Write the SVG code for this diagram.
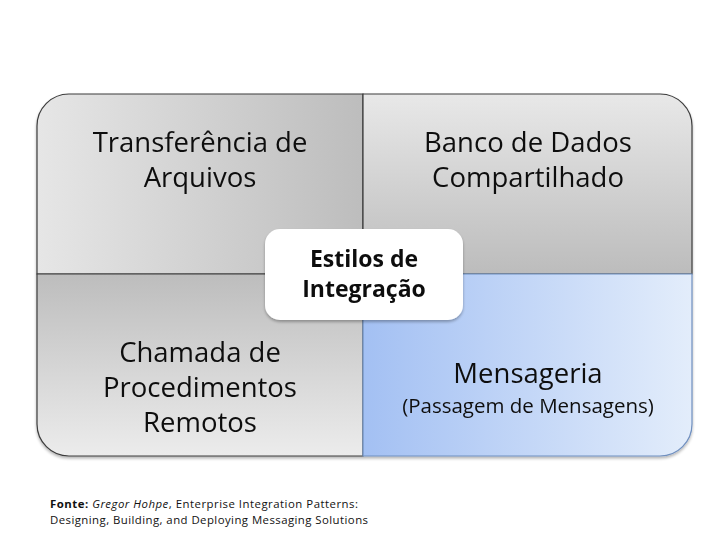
<svg xmlns="http://www.w3.org/2000/svg" width="728" height="546" viewBox="0 0 728 546">
<defs>
<linearGradient id="gTL" x1="0" y1="0" x2="1" y2="0"><stop offset="0" stop-color="#e6e6e6"/><stop offset="1" stop-color="#bdbdbd"/></linearGradient>
<linearGradient id="gTR" x1="0" y1="0" x2="0" y2="1"><stop offset="0" stop-color="#e8e8e8"/><stop offset="1" stop-color="#bcbcbc"/></linearGradient>
<linearGradient id="gBL" x1="0" y1="0" x2="0" y2="1"><stop offset="0" stop-color="#bdbdbd"/><stop offset="1" stop-color="#ececec"/></linearGradient>
<linearGradient id="gBR" x1="0" y1="0" x2="1" y2="0"><stop offset="0" stop-color="#a3c0f3"/><stop offset="1" stop-color="#e3edfb"/></linearGradient>
<filter id="sh" x="-10%" y="-10%" width="120%" height="125%"><feGaussianBlur in="SourceAlpha" stdDeviation="1.5"/><feOffset dx="0" dy="2" result="b"/><feComponentTransfer><feFuncA type="linear" slope="0.3"/></feComponentTransfer><feMerge><feMergeNode/><feMergeNode in="SourceGraphic"/></feMerge></filter>
</defs>
<style>
.q{stroke:#3c3c3c;stroke-width:1.2}
.t{font-family:"Open Sans","Liberation Sans",sans-serif;font-size:27.5px;fill:#111;text-anchor:middle}
.s{font-size:20.5px}
.c{font-family:"Open Sans","Liberation Sans",sans-serif;font-size:23px;font-weight:bold;fill:#111;text-anchor:middle}
.f{font-family:"Open Sans","Liberation Sans",sans-serif;font-size:11.4px;fill:#111}
</style>
<rect width="728" height="546" fill="#fff"/>
<g filter="url(#sh)">
<g id="tl">
<path class="q" d="M37,274 V126 A32,32 0 0 1 69,94 H363 V274 Z" fill="url(#gTL)"/>
<text class="t" x="200" y="152">Transferência de</text>
<text class="t" x="200" y="187">Arquivos</text>
</g>
<g id="tr">
<path class="q" d="M363,94 H660 A32,32 0 0 1 692,126 V274 H363 Z" fill="url(#gTR)"/>
<text class="t" x="528" y="152">Banco de Dados</text>
<text class="t" x="528" y="187">Compartilhado</text>
</g>
<g id="bl">
<path class="q" d="M37,274 H363 V456 H69 A32,32 0 0 1 37,424 Z" fill="url(#gBL)"/>
<text class="t" x="200" y="362">Chamada de</text>
<text class="t" x="200" y="397">Procedimentos</text>
<text class="t" x="200" y="432">Remotos</text>
</g>
<g id="br">
<path d="M363,274 H692 V424 A32,32 0 0 1 660,456 H363 Z" fill="url(#gBR)" stroke="#6f8fbf" stroke-width="1.2"/>
<text class="t" x="528" y="383">Mensageria</text>
<text class="t s" x="528" y="413">(Passagem de Mensagens)</text>
</g>
</g>
<g id="center" filter="url(#sh)">
<rect x="265" y="229" width="198" height="91" rx="15" fill="#fff"/>
<text class="c" x="364" y="267">Estilos de</text>
<text class="c" x="364" y="297">Integração</text>
</g>
<g id="connectors"/>
<g id="footer">
<text class="f" x="50" y="508" textLength="308" lengthAdjust="spacing"><tspan font-weight="bold">Fonte:</tspan> <tspan font-style="italic">Gregor Hohpe</tspan>, Enterprise Integration Patterns:</text>
<text class="f" x="50" y="524" textLength="318" lengthAdjust="spacing">Designing, Building, and Deploying Messaging Solutions</text>
</g>
</svg>
